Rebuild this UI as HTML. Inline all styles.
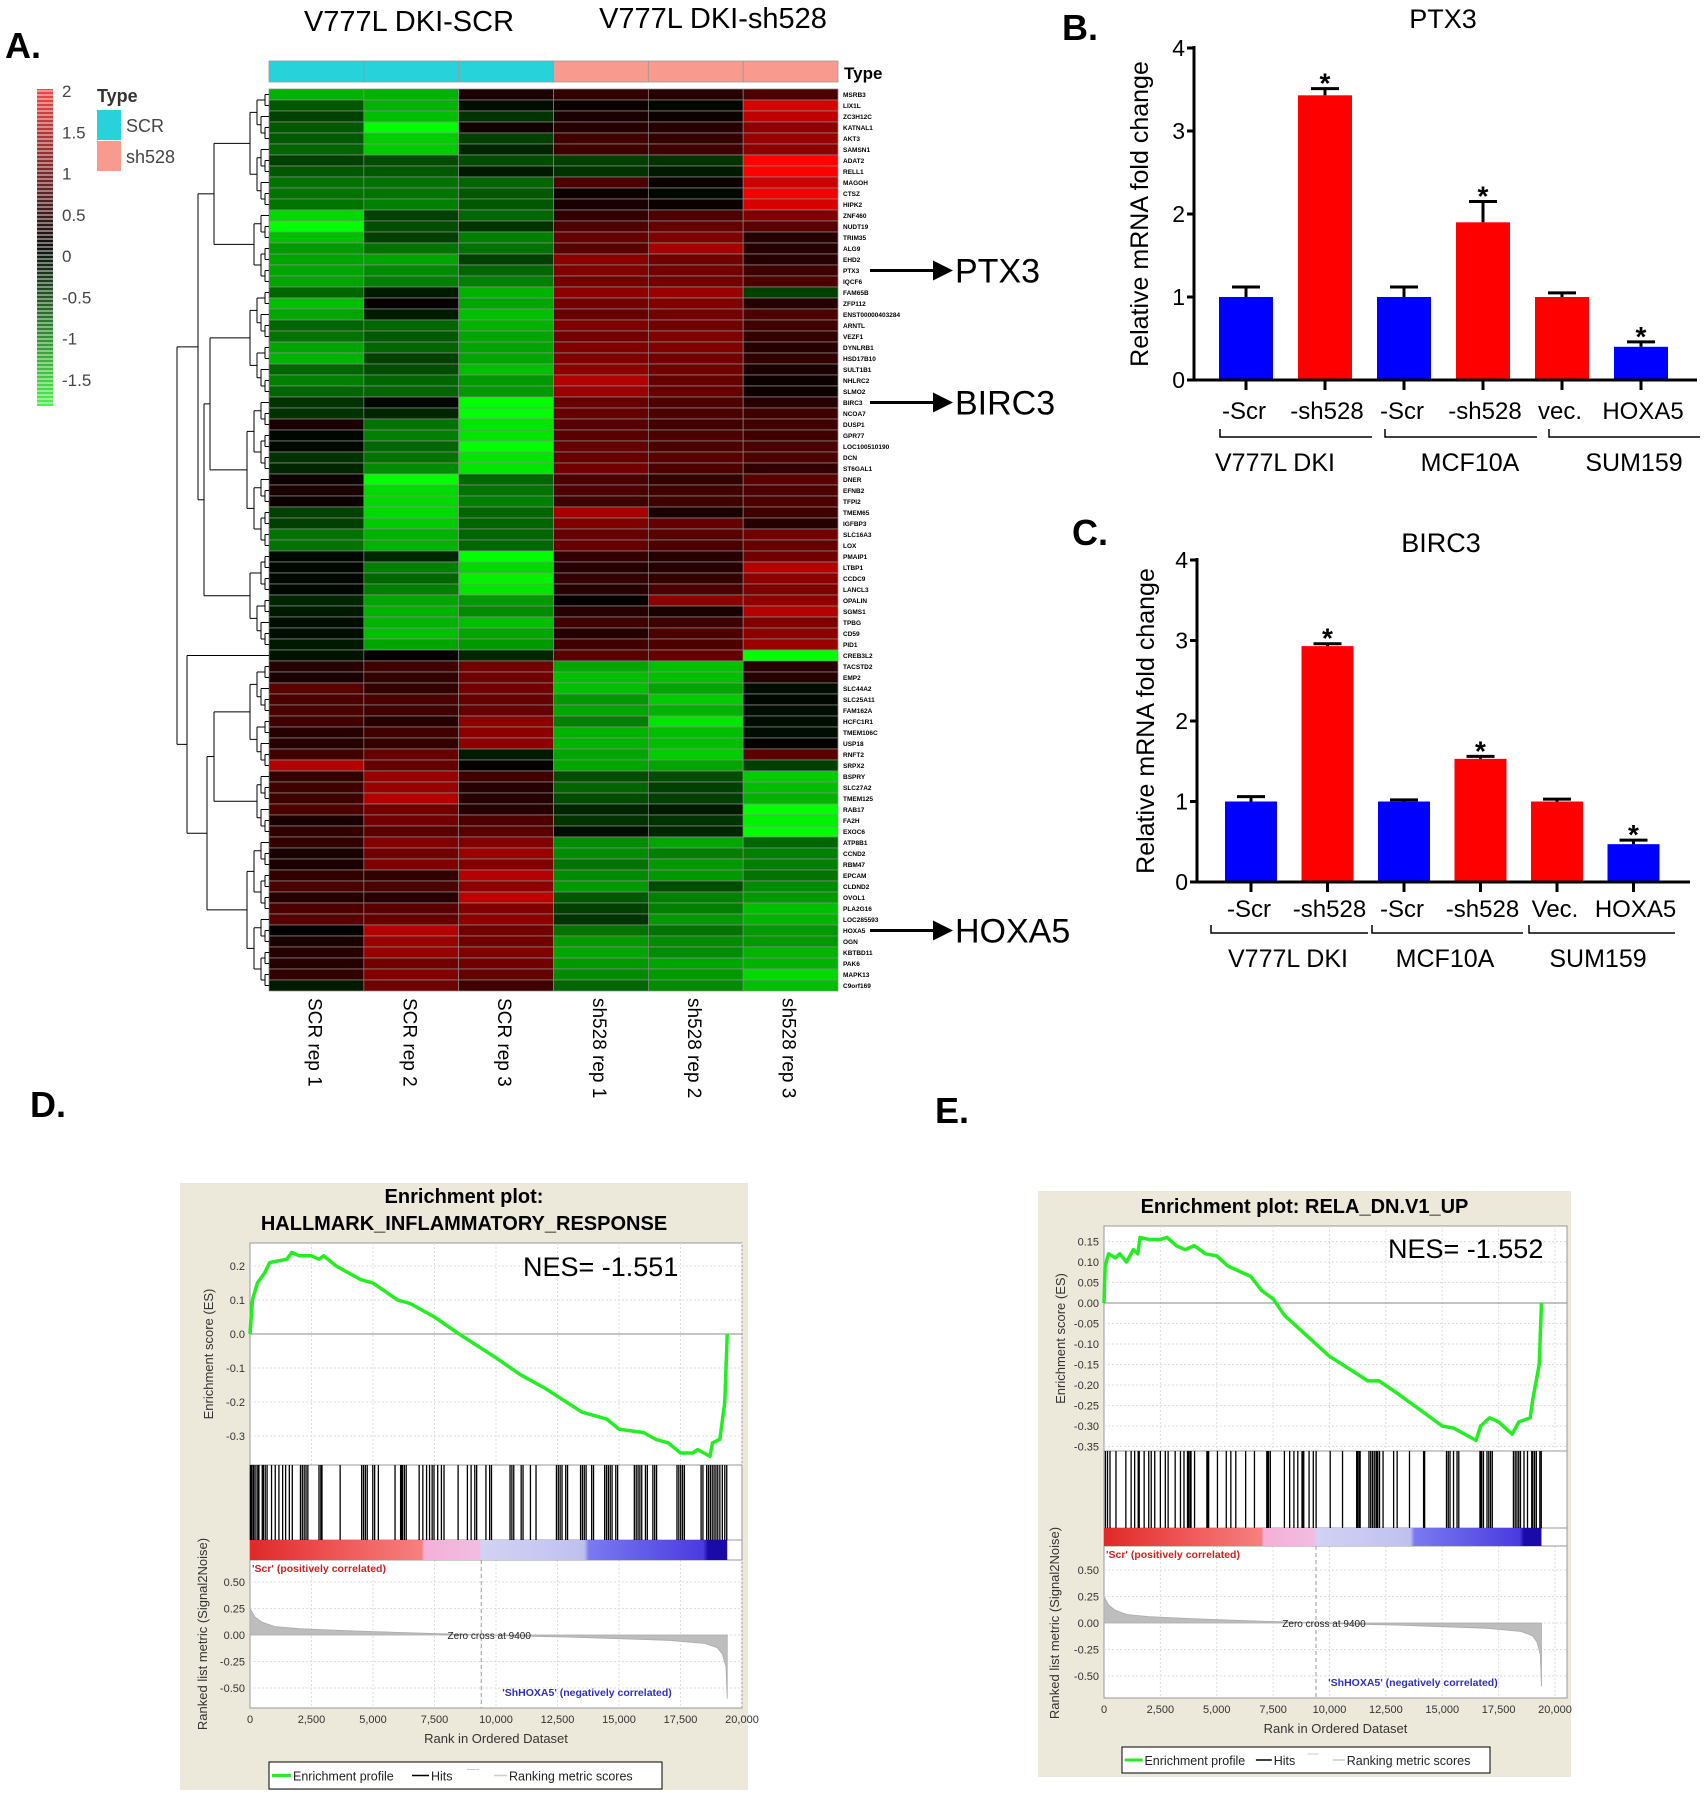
<!DOCTYPE html>
<html><head><meta charset="utf-8"><style>
body{margin:0;background:#fff}
svg{display:block;font-family:"Liberation Sans",Arial,sans-serif}
</style></head><body>
<svg id="fig" width="1706" height="1800" viewBox="0 0 1706 1800" xmlns="http://www.w3.org/2000/svg">
<defs>
<linearGradient id="keyGrad" x1="0" y1="0" x2="0" y2="1">
<stop offset="0" stop-color="#f04848"/><stop offset="0.5" stop-color="#101010"/><stop offset="1" stop-color="#50f050"/></linearGradient>
<linearGradient id="gseaBar" x1="0" y1="0" x2="1" y2="0">
<stop offset="0" stop-color="#e02828"/><stop offset="0.2" stop-color="#f05a5a"/><stop offset="0.36" stop-color="#f58080"/><stop offset="0.365" stop-color="#f4b0d8"/><stop offset="0.48" stop-color="#f2bce0"/><stop offset="0.485" stop-color="#d2d2f4"/><stop offset="0.7" stop-color="#c0c0f0"/><stop offset="0.71" stop-color="#7a7af0"/><stop offset="0.95" stop-color="#4a3ae0"/><stop offset="0.96" stop-color="#1a0aa8"/><stop offset="1" stop-color="#1a0aa8"/></linearGradient>
</defs>
<g id="panelA"></g>
<g id="panelB"></g>
<g id="panelC"></g>
<g id="panelD"></g>
<g id="panelE"></g>
</svg>
<script>
// ---------- Heatmap data ----------
const genes = ["MSRB3","LIX1L","ZC3H12C","KATNAL1","AKT3","SAMSN1","ADAT2","RELL1","MAGOH","CTSZ","HIPK2","ZNF460","NUDT19","TRIM35","ALG9","EHD2","PTX3","IQCF6","FAM65B","ZFP112","ENST00000403284","ARNTL","VEZF1","DYNLRB1","HSD17B10","SULT1B1","NHLRC2","SLMO2","BIRC3","NCOA7","DUSP1","GPR77","LOC100510190","DCN","ST6GAL1","DNER","EFNB2","TFPI2","TMEM65","IGFBP3","SLC16A3","LOX","PMAIP1","LTBP1","CCDC9","LANCL3","OPALIN","SGMS1","TPBG","CD59","PID1","CREB3L2","TACSTD2","EMP2","SLC44A2","SLC25A11","FAM162A","HCFC1R1","TMEM106C","USP18","RNFT2","SRPX2","BSPRY","SLC27A2","TMEM125","RAB17","FA2H","EXOC6","ATP8B1","CCND2","RBM47","EPCAM","CLDND2","OVOL1","PLA2G16","LOC285593","HOXA5","OGN","KBTBD11","PAK6","MAPK13","C9orf169"];
const samples = ["SCR rep 1","SCR rep 2","SCR rep 3","sh528 rep 1","sh528 rep 2","sh528 rep 3"];
const sampleType = ["SCR","SCR","SCR","sh528","sh528","sh528"];
const expr = [
[-1.4,-1.4,0.2,0.4,0.3,0.6],[-0.7,-1.4,-0.1,0.1,-0.05,1.7],[-0.5,-1.5,-0.4,0.2,0.1,1.5],[-0.7,-2,0.15,0.3,0.3,1.1],[-0.7,-1.6,-0.5,0.5,0.4,1.2],[-0.8,-1.6,-0.3,0.5,0.5,1.1],
[-0.5,-0.6,-0.6,-0.5,-0.4,2],[-0.7,-0.7,-0.2,-0.4,-0.2,2],[-0.9,-0.9,-0.8,0.6,0.1,1.6],[-0.9,-0.9,-0.7,0.1,-0.05,1.9],[-0.9,-1.0,-0.7,0.2,0.1,1.7],
[-1.7,-0.5,-0.8,0.4,0.6,1.0],[-2,-0.6,-0.4,0.6,0.8,0.7],[-1.5,-0.5,-1.0,0.8,1.0,0.3],[-1.2,-0.9,-0.9,0.7,1.3,0.3],[-1.3,-1.3,-0.5,1.1,0.9,0.3],[-1.3,-1.1,-0.8,1.0,0.9,0.5],[-1.3,-1.0,-1.0,0.9,0.9,0.6],
[-0.8,-0.2,-1.4,1.1,1.2,-0.5],[-1.5,0.05,-1.3,0.9,1.0,0.3],[-1.3,-0.2,-1.5,0.8,0.9,0.6],[-0.8,-0.8,-1.4,1.0,0.9,0.5],[-0.9,-0.7,-1.3,0.9,1.0,0.4],[-1.3,-0.8,-1.3,1.0,1.0,0.3],[-1.4,-0.5,-1.3,1.0,0.9,0.4],[-0.8,-0.6,-1.5,1.1,0.9,0.2],[-1.0,-0.8,-1.2,1.4,0.8,0.1],[-0.8,-0.8,-1.2,1.2,0.8,0.1],
[-0.4,-0.05,-2,0.8,0.6,0.3],[-0.4,-0.3,-2,0.8,0.6,0.5],[0.2,-0.9,-1.8,0.7,0.5,0.5],[-0.05,-1.0,-1.8,0.7,0.6,0.5],[-0.05,-0.8,-2,0.8,0.6,0.6],[-0.4,-0.9,-1.8,0.8,0.7,0.6],[-0.3,-1.1,-1.8,0.9,0.6,0.4],
[0.1,-2,-0.8,0.6,0.4,0.7],[0.2,-1.7,-0.9,0.6,0.5,0.6],[0.1,-1.7,-1.0,0.5,0.5,0.6],[-0.5,-1.7,-0.8,1.3,0.2,0.5],[-0.5,-1.6,-0.8,1.0,0.8,0.3],[-0.9,-1.4,-0.8,0.8,0.7,0.9],[-0.9,-1.4,-0.8,0.8,0.6,0.8],
[-0.05,-0.3,-2,0.4,0.3,0.9],[-0.05,-1.0,-1.7,0.3,0.3,1.4],[-0.05,-0.8,-1.9,0.4,0.4,1.1],[-0.05,-1.0,-1.8,0.3,0.6,1.0],[-0.3,-1.3,-1.2,0.05,1.1,1.1],[-0.2,-1.4,-1.1,0.3,0.2,1.4],[-0.1,-1.4,-1.5,0.5,0.5,1.0],[-0.1,-1.5,-1.3,0.3,0.6,1.1],[-0.2,-1.3,-1.2,0.5,0.6,1.2],
[-0.15,0.05,-0.3,0.7,0.8,-2],
[0.3,0.5,0.9,-1.3,-1.5,0.3],[0.2,0.4,0.9,-1.5,-1.5,0.3],[0.7,0.4,0.9,-1.5,-1.3,-0.1],[0.6,0.6,0.8,-1.2,-1.6,-0.05],[0.6,0.5,0.8,-1.3,-1.4,-0.1],[0.5,0.3,1.1,-1.0,-1.8,-0.1],[0.3,0.5,1.1,-1.4,-1.5,-0.1],[0.3,0.4,1.1,-1.4,-1.5,0.05],[0.5,0.8,-0.2,-1.3,-1.6,0.7],[1.4,0.8,0.05,-1.3,-1.3,-0.5],
[0.4,1.2,0.5,-0.6,-0.6,-1.6],[0.5,1.2,0.3,-0.8,-0.5,-1.5],[0.5,1.4,0.3,-0.6,-0.5,-1.4],[0.6,0.9,0.3,-0.3,-0.2,-2],[0.2,0.9,0.6,-0.4,-0.4,-1.9],[0.4,0.7,0.7,-0.1,-0.3,-2],
[0.4,1.0,1.0,-1.1,-1.3,-0.8],[0.2,0.9,1.2,-1.1,-1.0,-1.0],[0.2,1.0,1.0,-0.9,-1.2,-1.0],[0.4,0.4,1.4,-1.1,-1.2,-0.9],[0.6,0.6,1.1,-1.2,-0.6,-1.1],[0.3,0.3,1.5,-0.7,-1.0,-1.2],[0.6,0.7,1.0,-0.5,-1.0,-1.5],[0.7,0.8,1.1,-0.4,-1.2,-1.4],
[0.0,1.4,0.9,-0.9,-0.9,-1.2],[0.2,1.2,0.9,-1.2,-1.1,-1.2],[0.3,1.2,1.0,-1.3,-1.1,-1.4],[0.3,0.9,0.9,-1.2,-1.3,-1.4],[0.4,1.0,0.8,-1.1,-1.2,-1.7],[-0.2,0.9,0.5,-0.8,-1.1,-1.5]];
const keyTicks = [2,1.5,1,0.5,0,-0.5,-1,-1.5];
const markedGenes = ["PTX3","BIRC3","HOXA5"];
const dendroSegments = [[0,11],[11,18],[18,28],[28,42],[42,51],[51,52],[52,62],[62,68],[68,82]];

// ---------- Bar chart data ----------
const barCategories = ["-Scr","-sh528","-Scr","-sh528","vec.","HOXA5"];
const barCategoriesC = ["-Scr","-sh528","-Scr","-sh528","Vec.","HOXA5"];
const barColors = ["#0000ff","#ff0000","#0000ff","#ff0000","#ff0000","#0000ff"];
const groupNames = ["V777L DKI","MCF10A","SUM159"];
const ptx3Values = [1.0,3.43,1.0,1.9,1.0,0.4];
const ptx3Errors = [0.12,0.08,0.12,0.25,0.05,0.06];
const ptx3Sig = [false,true,false,true,false,true];
const birc3Values = [1.0,2.93,1.0,1.53,1.0,0.47];
const birc3Errors = [0.06,0.03,0.02,0.03,0.03,0.05];
const birc3Sig = [false,true,false,true,false,true];
const barYTicks = [0,1,2,3,4];

// ---------- GSEA data ----------
const esRanksD = [0,100,300,600,800,1500,1700,2000,2500,2800,3000,3500,4500,5000,6000,6500,7500,8500,10000,11000,12000,13500,14500,15000,16000,16500,17000,17500,18000,18200,18700,18800,19100,19300,19400];
const esValsD = [0,0.1,0.15,0.18,0.21,0.22,0.24,0.23,0.23,0.22,0.23,0.2,0.16,0.15,0.1,0.09,0.05,0,-0.07,-0.12,-0.16,-0.23,-0.25,-0.28,-0.29,-0.31,-0.32,-0.35,-0.35,-0.34,-0.36,-0.32,-0.31,-0.2,0];
const hitsD = [15,60,121,166,241,317,362,498,543,618,694,875,1026,1176,1327,1448,1598,1719,2051,2126,2202,2277,2352,2805,2880,2926,3664,4539,4614,4690,4765,4991,5067,5218,5896,6122,6153,6198,6273,6349,6876,7027,7178,7299,7404,7480,7630,7781,7887,8460,8837,8988,9138,9214,9591,9742,9817,10571,10646,10722,11023,11099,11400,11627,12456,12532,12607,12683,12834,12909,13437,13512,13588,13663,13889,13965,14417,14492,14568,14643,14718,14869,14944,15623,15698,15774,15849,15925,16075,16151,16377,16452,16528,17357,17432,17508,17583,17658,18337,18412,18563,18638,18714,18789,18864,18940,19015,19100,19200,19300,19380];
const esRanksE = [0,50,200,500,700,1000,1300,1500,1600,2000,2500,2800,3200,3600,4000,4500,5000,5500,6500,7000,7500,8000,9000,10000,11000,11700,12200,13000,14000,15000,15500,16500,16700,17100,17500,18100,18400,18900,19000,19200,19300,19400];
const esValsE = [0,0.09,0.12,0.11,0.12,0.1,0.13,0.12,0.16,0.155,0.155,0.16,0.14,0.13,0.14,0.12,0.115,0.09,0.065,0.03,0.01,-0.03,-0.08,-0.13,-0.165,-0.19,-0.19,-0.22,-0.26,-0.3,-0.305,-0.335,-0.3,-0.28,-0.29,-0.32,-0.29,-0.28,-0.24,-0.18,-0.15,0];
const hitsE = [63,156,266,531,969,1203,1359,1516,1563,1781,1984,2094,2250,2500,2719,2844,3156,3391,3547,3703,3750,3813,3859,4016,4563,4594,4641,5031,5422,5625,5844,6281,6672,7219,7250,7297,7375,8000,8234,8422,8594,8781,8813,8859,9094,9281,9406,10031,10578,11203,11250,11313,11359,11750,11828,11906,11984,12063,12109,12141,12219,12375,12844,13000,13547,14172,14219,15188,15266,15344,15500,15656,15734,16672,16719,16750,16828,16984,17063,17141,17219,18156,18234,18313,18391,18469,18625,18781,18969,19016,19094,19172,19328,19390];
const metricRanks = [0,200,500,1000,2000,4000,6000,8000,9400,11000,13000,15000,17000,18500,19000,19200,19350,19400];
const metricVals = [0.25,0.17,0.12,0.08,0.06,0.04,0.025,0.01,0,-0.01,-0.02,-0.035,-0.05,-0.08,-0.12,-0.18,-0.3,-0.6];
const esTicksD = [0.2,0.1,0.0,-0.1,-0.2,-0.3];
const esTicksE = [0.15,0.10,0.05,0.00,-0.05,-0.10,-0.15,-0.20,-0.25,-0.30,-0.35];
const metricTicks = [0.5,0.25,0,-0.25,-0.5];
const rankTicks = [0,2500,5000,7500,10000,12500,15000,17500,20000];

const NS="http://www.w3.org/2000/svg";
function mk(parent,tag,attrs,text){const e=document.createElementNS(NS,tag);for(const k in attrs)e.setAttribute(k,attrs[k]);if(text!==undefined)e.textContent=text;parent.appendChild(e);return e;}
function fmt(v,d){return v.toFixed(d).replace(/\B(?=(\d{3})+(?!\d))/g,",");}

// ================= Panel A =================
(function(){
const g=document.getElementById('panelA');
const x0=269,x1=838,y0=89,rowH=11.0,colW=(x1-x0)/samples.length;
const t=mk(g,'text',{x:5,y:58,'font-size':36,'font-weight':'bold'},'A.');

let h=mk(g,'text',{x:409,y:31,'font-size':29,'text-anchor':'middle'},'V777L DKI-SCR');

h=mk(g,'text',{x:713,y:28,'font-size':29,'text-anchor':'middle'},'V777L DKI-sh528');

sampleType.forEach((s,j)=>{
 const r=mk(g,'rect',{x:x0+j*colW,y:61,width:colW,height:21,fill:s==='SCR'?'#27d2da':'#f89a8e',stroke:'#999','stroke-width':0.8});
 
});
h=mk(g,'text',{x:844,y:79,'font-size':17,'font-weight':'bold'},'Type');

function col(v){const a=Math.min(1,Math.abs(v)/2);const c=Math.round(a*255);return v>=0?`rgb(${c},0,0)`:`rgb(0,${c},0)`;}
expr.forEach((row,i)=>{
 row.forEach((v,j)=>{
  const r=mk(g,'rect',{x:x0+j*colW,y:y0+i*rowH,width:colW,height:rowH,fill:col(v),stroke:'#8c8c8c','stroke-width':0.7});
  
 });
 const l=mk(g,'text',{x:843,y:y0+i*rowH+8,'font-size':6.5,'font-weight':'bold'},genes[i]);
 
});
const dg=mk(g,'g',{stroke:'#000','stroke-width':1,fill:'none'});

function ln(a,b,c,d){mk(dg,'line',{x1:a,y1:b,x2:c,y2:d});}
function build(lo,hi,xr,xl){
 if(hi-lo===1){return {y:y0+(lo+0.5)*rowH,x:x0};}
 const mid=Math.floor((lo+hi)/2);
 const span=hi-lo;const xm=x0-Math.min(xr-xl,6+span*2.2);
 const a=build(lo,mid,xr,xl),b=build(mid,hi,xr,xl);
 const xx=Math.min(a.x,b.x)-4-(span>6?3:0);const xn=Math.max(xx,xm);
 ln(a.x,a.y,xn,a.y);ln(b.x,b.y,xn,b.y);ln(xn,a.y,xn,b.y);
 return {y:(a.y+b.y)/2,x:xn};
}
const nodes=dendroSegments.map(s=>build(s[0],s[1],x0,200));
function join(a,b,x){ln(a.x,a.y,x,a.y);ln(b.x,b.y,x,b.y);ln(x,a.y,x,b.y);return {x:x,y:(a.y+b.y)/2};}
const n01=join(nodes[0],nodes[1],214);
const n23=join(nodes[2],nodes[3],210);
const n234=join(n23,nodes[4],204);
const nUp=join(n01,n234,198);
const n67=join(nodes[6],nodes[7],214);
const n678=join(n67,nodes[8],207);
const nLow=join(nodes[5],n678,187);
join(nUp,nLow,177);
const kr=mk(g,'rect',{x:37,y:89,width:16,height:317,fill:'url(#keyGrad)'});

for(let y=91;y<406;y+=4){mk(g,'line',{x1:37,x2:53,y1:y,y2:y,stroke:'#fff','stroke-width':1.2,opacity:0.7});}
keyTicks.forEach((v,i)=>{
 const kt=mk(g,'text',{x:62,y:97+(2-v)*82.5,'font-size':17,fill:'#444'},String(v));
 
});
h=mk(g,'text',{x:97,y:102,'font-size':18,'font-weight':'bold',fill:'#333'},'Type');

[['SCR','#27d2da',110],['sh528','#f89a8e',141]].forEach(d=>{
 const r=mk(g,'rect',{x:97,y:d[2],width:24,height:30,fill:d[1]});
 
 const tt=mk(g,'text',{x:126,y:d[2]+22,'font-size':18,fill:'#444'},d[0]);
 
});
samples.forEach((s,j)=>{
 const cx=x0+(j+0.5)*colW-8;
 const ct=mk(g,'text',{x:cx,y:998,'font-size':19,transform:`rotate(90 ${cx} 998)`},s);
 
});
markedGenes.forEach(gn=>{
 const i=genes.indexOf(gn);const y=y0+(i+0.5)*rowH;
 const ag=mk(g,'g',{});
 
 mk(ag,'line',{x1:870,y1:y,x2:935,y2:y,stroke:'#000','stroke-width':3});
 mk(ag,'polygon',{points:`933,${y-10} 953,${y} 933,${y+10}`,fill:'#000'});
 mk(ag,'text',{x:955,y:y+12,'font-size':34},gn);
});
})();

// ================= Bar charts =================
function barChart(gid,o,vals,errs,sig,cats){
 const g=document.getElementById(gid);
 const ys=v=>o.y0-v*(o.y0-o.y4)/4;
 let t=mk(g,'text',{x:o.lx,y:o.ly,'font-size':36,'font-weight':'bold'},o.letter);
 
 t=mk(g,'text',{x:o.tx,y:o.ty,'font-size':27,'text-anchor':'middle'},o.title);
 
 t=mk(g,'text',{x:0,y:0,'font-size':25,'text-anchor':'middle',transform:`translate(${o.ylx},${(o.y0+o.y4)/2}) rotate(-90)`},'Relative mRNA fold change');
 
 vals.forEach((v,i)=>{
  const cx=o.bx+i*o.pitch;
  const r=mk(g,'rect',{x:cx-o.bw/2,y:ys(v),width:o.bw,height:o.y0-ys(v),fill:barColors[i]});
  
  const eg=mk(g,'g',{stroke:'#000','stroke-width':3});
  
  mk(eg,'line',{x1:cx,x2:cx,y1:ys(v),y2:ys(v+errs[i])});
  mk(eg,'line',{x1:cx-14,x2:cx+14,y1:ys(v+errs[i]),y2:ys(v+errs[i])});
  if(sig[i]){const s=mk(g,'text',{x:cx,y:ys(v+errs[i])+4,'font-size':28,'font-weight':'bold','text-anchor':'middle'},'*');
   }
  mk(g,'line',{x1:cx,x2:cx,y1:o.y0,y2:o.y0+10,stroke:'#000','stroke-width':3});
  const tl=mk(g,'text',{x:cx+(i%2?2:-2),y:o.tly,'font-size':24,'text-anchor':'middle'},cats[i]);
  
 });
 const ax=mk(g,'path',{d:`M${o.ax},${o.y4-2} L${o.ax},${o.y0} L${o.axEnd},${o.y0}`,stroke:'#000','stroke-width':3,fill:'none'});
 
 barYTicks.forEach(v=>{
  mk(g,'line',{x1:o.ax-7,x2:o.ax,y1:ys(v),y2:ys(v),stroke:'#000','stroke-width':3});
  const yt=mk(g,'text',{x:o.ax-9,y:ys(v)+8,'font-size':23,'text-anchor':'end'},String(v));
  
 });
 groupNames.forEach((gn,k)=>{
  const b=o.brackets[k];
  const bp=mk(g,'path',{d:`M${b[0]},${o.bry-8} L${b[0]},${o.bry} L${b[1]},${o.bry}`,stroke:'#000','stroke-width':1.5,fill:'none'});
  
  const gl=mk(g,'text',{x:o.glx[k],y:o.gly,'font-size':25,'text-anchor':'middle'},gn);
  
 });
}
barChart('panelB',{letter:'B.',lx:1062,ly:40,title:'PTX3',tx:1443,ty:28,ylx:1148,y0:380,y4:48,ax:1194,axEnd:1697,bx:1246,pitch:79,bw:54,tly:419,bry:437,brackets:[[1220,1372],[1385,1537],[1549,1700]],glx:[1275,1470,1634],gly:471},ptx3Values,ptx3Errors,ptx3Sig,barCategories);
barChart('panelC',{letter:'C.',lx:1072,ly:545,title:'BIRC3',tx:1441,ty:552,ylx:1154,y0:882,y4:560,ax:1197,axEnd:1690,bx:1251,pitch:76.5,bw:52,tly:917,bry:933,brackets:[[1211,1368],[1372,1523],[1529,1675]],glx:[1288,1445,1598],gly:967},birc3Values,birc3Errors,birc3Sig,barCategoriesC);

// ================= GSEA =================
function gsea(gid,o,esR,esV,hits,esTicks,esDec){
 const g=document.getElementById(gid);
 let t=mk(g,'text',{x:o.lx,y:o.ly,'font-size':36,'font-weight':'bold'},o.letter);
 
 const bg=mk(g,'rect',{x:o.bx0,y:o.by0,width:o.bx1-o.bx0,height:o.by1-o.by0,fill:'#ece8da'});
 
 o.titles.forEach((s,i)=>{const tt=mk(g,'text',{x:(o.bx0+o.bx1)/2,y:o.titleY[i],'font-size':20,'font-weight':'bold','text-anchor':'middle'},s);
  });
 const xs=r=>o.px0+r*(o.x20k-o.px0)/20000;
 const ey=v=>o.es0-v*o.esK;
 const my=v=>o.m0-v*o.mK;
 const pr=mk(g,'rect',{x:o.px0,y:o.esTop,width:o.px1-o.px0,height:o.mBot-o.esTop,fill:'#fff',stroke:'#999','stroke-width':1});
 
 rankTicks.forEach(r=>{
  if(r>0){mk(g,'line',{x1:xs(r),x2:xs(r),y1:o.esTop,y2:o.esBot,stroke:'#ddd','stroke-dasharray':'2,2'});
  mk(g,'line',{x1:xs(r),x2:xs(r),y1:o.cbBot,y2:o.mBot,stroke:'#ddd','stroke-dasharray':'2,2'});}
  const tl=mk(g,'text',{x:xs(r),y:o.mBot+15,'font-size':11,'text-anchor':'middle',fill:'#333'},fmt(r,0));
  
 });
 esTicks.forEach(v=>{
  mk(g,'line',{x1:o.px0,x2:o.px1,y1:ey(v),y2:ey(v),stroke:v===0?'#888':'#ddd','stroke-dasharray':v===0?'':'2,2'});
  const tl=mk(g,'text',{x:o.px0-5,y:ey(v)+4,'font-size':11,'text-anchor':'end',fill:'#333'},v.toFixed(esDec));
  
 });
 metricTicks.forEach(v=>{
  mk(g,'line',{x1:o.px0,x2:o.px1,y1:my(v),y2:my(v),stroke:'#ddd','stroke-dasharray':'2,2'});
  const tl=mk(g,'text',{x:o.px0-5,y:my(v)+4,'font-size':11,'text-anchor':'end',fill:'#333'},v.toFixed(2));
  
 });
 mk(g,'line',{x1:o.px0,x2:o.px1,y1:o.esBot,y2:o.esBot,stroke:'#999'});
 mk(g,'line',{x1:o.px0,x2:o.px1,y1:o.cbTop,y2:o.cbTop,stroke:'#999'});
 mk(g,'line',{x1:o.px0,x2:o.px1,y1:o.cbBot,y2:o.cbBot,stroke:'#999'});
 const hg=mk(g,'g',{stroke:'#000','stroke-width':1.3});
 
 hits.forEach(r=>mk(hg,'line',{x1:xs(r),x2:xs(r),y1:o.esBot,y2:o.cbTop}));
 const cb=mk(g,'rect',{x:o.px0,y:o.cbTop,width:xs(19400)-o.px0,height:o.cbBot-o.cbTop,fill:'url(#gseaBar)'});
 
 let d=`M${xs(metricRanks[0])},${my(0)}`;
 metricRanks.forEach((r,i)=>d+=` L${xs(r)},${my(metricVals[i])}`);
 d+=` L${xs(metricRanks[metricRanks.length-1])},${my(0)} Z`;
 const ma=mk(g,'path',{d:d,fill:'#bdbdbd',stroke:'#aaa','stroke-width':0.8});
 
 mk(g,'line',{x1:xs(9400),x2:xs(9400),y1:o.cbBot,y2:o.mBot,stroke:'#999','stroke-dasharray':'4,3'});
 t=mk(g,'text',{x:xs(9400)+8,y:my(0)+4,'font-size':10,'text-anchor':'middle',fill:'#222'},'Zero cross at 9400');
 
 t=mk(g,'text',{x:o.px0+2,y:o.cbBot+12,'font-size':10.5,fill:'#d02020','font-weight':'bold'},"'Scr' (positively correlated)");
 
 t=mk(g,'text',{x:xs(13700),y:o.mBot-12,'font-size':10.5,fill:'#3030c0','font-weight':'bold','text-anchor':'middle'},"'ShHOXA5' (negatively correlated)");
 
 const pts=esR.map((r,i)=>`${xs(r)},${ey(esV[i])}`).join(' ');
 const pl=mk(g,'polyline',{points:pts,fill:'none',stroke:'#22ee22','stroke-width':3.5,'stroke-linejoin':'round'});
 
 t=mk(g,'text',{x:o.nesX,y:o.nesY,'font-size':27},o.nes);
 
 t=mk(g,'text',{x:0,y:0,'font-size':13,'text-anchor':'middle',fill:'#333',transform:`translate(${o.ylx},${(o.esTop+o.esBot)/2}) rotate(-90)`},'Enrichment score (ES)');
 
 t=mk(g,'text',{x:0,y:0,'font-size':13,'text-anchor':'middle',fill:'#333',transform:`translate(${o.ylx-6},${(o.cbTop+o.mBot)/2+10}) rotate(-90)`},'Ranked list metric (Signal2Noise)');
 
 t=mk(g,'text',{x:(o.px0+o.px1)/2,y:o.mBot+35,'font-size':13,'text-anchor':'middle',fill:'#333'},'Rank in Ordered Dataset');
 
 const lg=mk(g,'g',{});
 
 mk(lg,'rect',{x:o.lgx0,y:o.lgy0,width:o.lgx1-o.lgx0,height:o.lgy1-o.lgy0,fill:'#fff',stroke:'#000'});
 const cy=(o.lgy0+o.lgy1)/2;const sc=(o.lgx1-o.lgx0)/393;
 const L=v=>o.lgx0+v*sc;
 mk(lg,'line',{x1:L(3),x2:L(22),y1:cy,y2:cy,stroke:'#22ee22','stroke-width':3});
 mk(lg,'text',{x:L(24),y:cy+5,'font-size':12.5,fill:'#222'},'Enrichment profile');
 mk(lg,'line',{x1:L(143),x2:L(160),y1:cy,y2:cy,stroke:'#000','stroke-width':1.5});
 mk(lg,'text',{x:L(162),y:cy+5,'font-size':12.5,fill:'#222'},'Hits');
 mk(lg,'line',{x1:L(198),x2:L(210),y1:cy-6,y2:cy-6,stroke:'#ccc','stroke-width':1});
 mk(lg,'line',{x1:L(225),x2:L(238),y1:cy,y2:cy,stroke:'#ccc','stroke-width':1.5});
 mk(lg,'text',{x:L(240),y:cy+5,'font-size':12.5,fill:'#222'},'Ranking metric scores');
}
gsea('panelD',{letter:'D.',lx:30,ly:1117,bx0:180,bx1:748,by0:1183,by1:1790,titles:['Enrichment plot:','HALLMARK_INFLAMMATORY_RESPONSE'],titleY:[1203,1230],
 px0:250,px1:742,x20k:742,esTop:1243,esBot:1465,es0:1334,esK:340,cbTop:1540,cbBot:1560,mBot:1708,m0:1635,mK:106,
 nes:'NES= -1.551',nesX:523,nesY:1276,ylx:213,lgx0:269,lgx1:662,lgy0:1762,lgy1:1789},esRanksD,esValsD,hitsD,esTicksD,1);
gsea('panelE',{letter:'E.',lx:935,ly:1123,bx0:1038,bx1:1571,by0:1191,by1:1777,titles:['Enrichment plot: RELA_DN.V1_UP'],titleY:[1213],
 px0:1104,px1:1567,x20k:1555,esTop:1226,esBot:1451,es0:1303,esK:410,cbTop:1528,cbBot:1546,mBot:1698,m0:1623,mK:106,
 nes:'NES= -1.552',nesX:1388,nesY:1258,ylx:1065,lgx0:1122,lgx1:1490,lgy0:1747,lgy1:1773},esRanksE,esValsE,hitsE,esTicksE,2);
</script>
</body></html>
